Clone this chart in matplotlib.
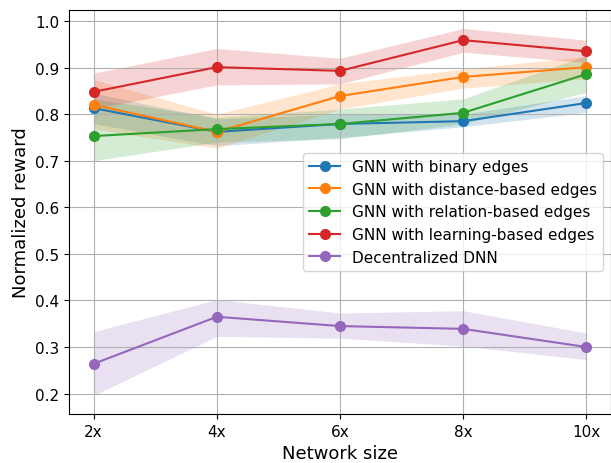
import matplotlib
matplotlib.use("Agg")
import matplotlib.pyplot as plt
import numpy as np

x_labels = ["2x", "4x", "6x", "8x", "10x"]
x_vals = [2, 4, 6, 8, 10]

names = ["GNN with binary edges", "GNN with distance-based edges",
         "GNN with relation-based edges", "GNN with learning-based edges",
         "Decentralized DNN"]

binary_mean = [0.813, 0.762, 0.779, 0.785, 0.824]
binary_lo = [0.780, 0.732, 0.750, 0.773, 0.804]
binary_hi = [0.845, 0.790, 0.800, 0.800, 0.840]

distance_mean = [0.820, 0.762, 0.839, 0.880, 0.901]
distance_lo = [0.768, 0.727, 0.811, 0.856, 0.876]
distance_hi = [0.874, 0.800, 0.865, 0.897, 0.924]

relation_mean = [0.753, 0.768, 0.779, 0.803, 0.886]
relation_lo = [0.700, 0.740, 0.747, 0.779, 0.847]
relation_hi = [0.833, 0.793, 0.811, 0.833, 0.926]

learning_mean = [0.848, 0.901, 0.893, 0.959, 0.935]
learning_lo = [0.811, 0.863, 0.865, 0.933, 0.911]
learning_hi = [0.888, 0.941, 0.920, 0.984, 0.959]

dnn_mean = [0.264, 0.365, 0.345, 0.339, 0.300]
dnn_lo = [0.196, 0.323, 0.319, 0.302, 0.273]
dnn_hi = [0.333, 0.402, 0.373, 0.378, 0.330]

means = [binary_mean, distance_mean, relation_mean, learning_mean, dnn_mean]
los = [binary_lo, distance_lo, relation_lo, learning_lo, dnn_lo]
his = [binary_hi, distance_hi, relation_hi, learning_hi, dnn_hi]
colors = ["#1f77b4", "#ff7f0e", "#2ca02c", "#d62728", "#9467bd"]

fig = plt.figure(figsize=(6.11, 4.64), dpi=100)
ax = fig.add_axes([0.113, 0.106, 0.887, 0.870])

for name, m, lo, hi, c in zip(names, means, los, his, colors):
    ax.plot(x_vals, m, marker="o", color=c, label=name, markersize=7, linewidth=1.5)
    ax.fill_between(x_vals, lo, hi, color=c, alpha=0.2, linewidth=0)

ax.set_xticks(x_vals)
ax.set_xticklabels(x_labels)
ax.tick_params(labelsize=11)
ax.set_xlabel("Network size", fontsize=13)
ax.set_ylabel("Normalized reward", fontsize=13)
ax.grid(True)
ax.legend(loc="center right", fontsize=11)

fig.savefig("out.png", dpi=100)
